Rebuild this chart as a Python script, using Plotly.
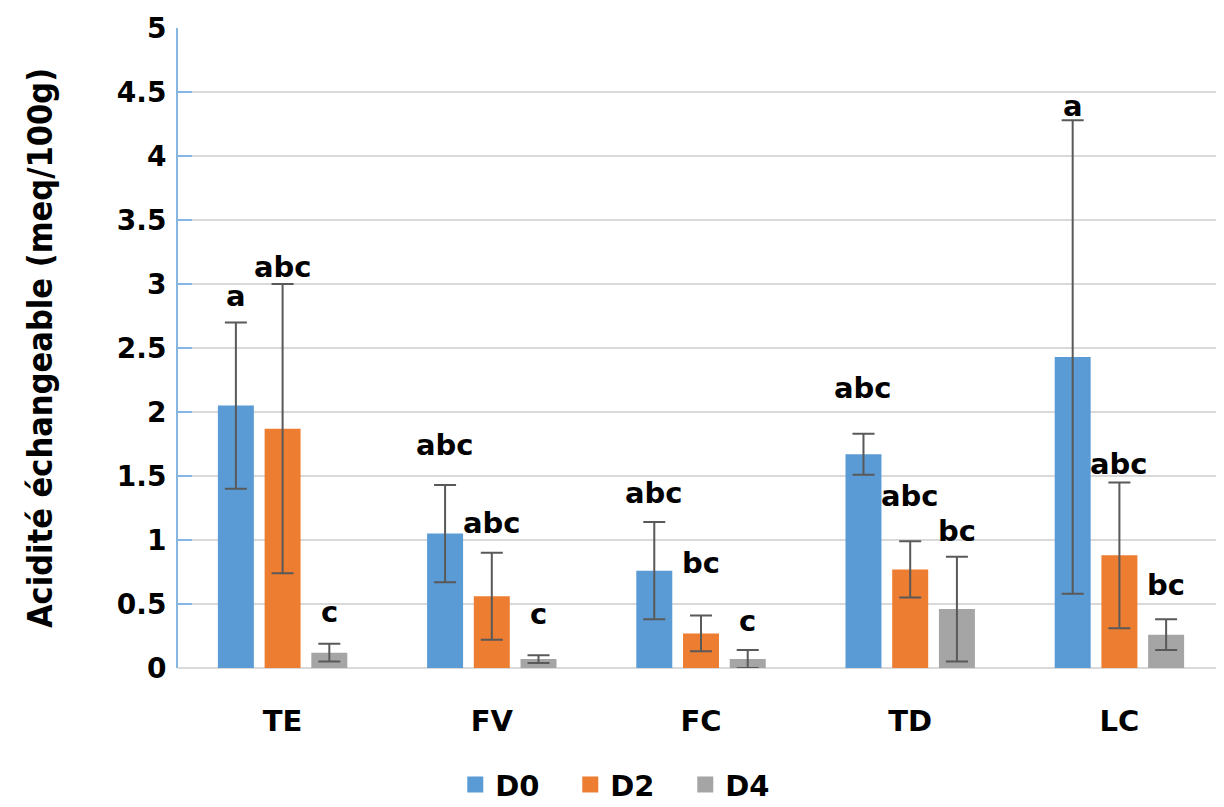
import plotly.graph_objects as go

categories = ["TE", "FV", "FC", "TD", "LC"]
series_names = ["D0", "D2", "D4"]

d0_values = [2.05, 1.05, 0.76, 1.67, 2.43]
d2_values = [1.87, 0.56, 0.27, 0.77, 0.88]
d4_values = [0.12, 0.07, 0.07, 0.46, 0.26]

d0_errors = [0.65, 0.38, 0.38, 0.16, 1.85]
d2_errors = [1.13, 0.34, 0.14, 0.22, 0.57]
d4_errors = [0.07, 0.03, 0.07, 0.41, 0.12]

d0_letters = ["a", "abc", "abc", "abc", "a"]
d2_letters = ["abc", "abc", "bc", "abc", "abc"]
d4_letters = ["c", "c", "c", "bc", "bc"]

# label heights (data units)
d0_letter_y = [2.91, 1.74, 1.37, 2.19, 4.39]
d2_letter_y = [3.13, 1.13, 0.82, 1.34, 1.59]
d4_letter_y = [0.44, 0.42, 0.37, 1.07, 0.65]

values = [d0_values, d2_values, d4_values]
errors = [d0_errors, d2_errors, d4_errors]
letters = [d0_letters, d2_letters, d4_letters]
letter_y = [d0_letter_y, d2_letter_y, d4_letter_y]
colors = ["#5B9BD5", "#ED7D31", "#A5A5A5"]

BARGAP = 0.33
BARGROUPGAP = 0.23
xs = list(range(len(categories)))

fig = go.Figure()
for j, name in enumerate(series_names):
    fig.add_trace(go.Bar(
        x=xs, y=values[j], name=name, marker_color=colors[j],
        marker_line_width=0, showlegend=False,
        error_y=dict(type="data", array=errors[j], color="#595959",
                     thickness=2, width=11),
    ))
for j, name in enumerate(series_names):
    fig.add_trace(go.Scatter(
        x=[None], y=[None], mode="markers", name=name,
        marker=dict(symbol="square", size=20, color=colors[j]),
    ))

slot = (1 - BARGAP) / 3
bold = dict(family="DejaVu Sans", size=29, color="black", weight="bold")
annotations = []
for j in range(3):
    for i in xs:
        annotations.append(dict(
            x=i + (j - 1) * slot, y=letter_y[j][i], xref="x", yref="y",
            text=letters[j][i], showarrow=False, font=bold,
            xanchor="center", yanchor="middle",
        ))

# page body has an 8px margin: the figure is sized so it fits the 1224x807 window
fig.update_layout(
    width=1216, height=799,
    margin=dict(l=170, r=0, t=20, b=139),
    paper_bgcolor="white", plot_bgcolor="white",
    barmode="group", bargap=BARGAP, bargroupgap=BARGROUPGAP,
    annotations=annotations,
    legend=dict(orientation="h", xref="paper", x=0.43, xanchor="center",
                yref="container", y=0.028, yanchor="middle",
                entrywidth=70, entrywidthmode="pixels",
                font=dict(family="DejaVu Sans", size=29, color="black", weight="bold"),
                itemsizing="trace", tracegroupgap=0),
    showlegend=True,
)
fig.update_xaxes(
    tickmode="array", tickvals=xs, ticktext=categories,
    range=[-0.5, 4.5], showgrid=False, zeroline=False, showline=False,
    ticks="", ticklabelstandoff=33,
    tickfont=dict(family="DejaVu Sans", size=29, color="black", weight="bold"),
)
fig.update_yaxes(
    range=[0, 5], dtick=0.5, tick0=0,
    showgrid=True, gridcolor="#D9D9D9", gridwidth=2,
    zeroline=True, zerolinecolor="#D9D9D9", zerolinewidth=2,
    showline=True, linecolor="#86B7E3", linewidth=2,
    ticks="inside", ticklen=14, tickcolor="#86B7E3", tickwidth=2,
    ticklabelstandoff=4,
    tickfont=dict(family="DejaVu Sans", size=28, color="black", weight="bold"),
    title=dict(text="Acidité échangeable (meq/100g)", standoff=54,
               font=dict(family="DejaVu Sans Condensed, DejaVu Sans", size=34,
                         color="black", weight="bold")),
)

fig.write_html("out.html")
